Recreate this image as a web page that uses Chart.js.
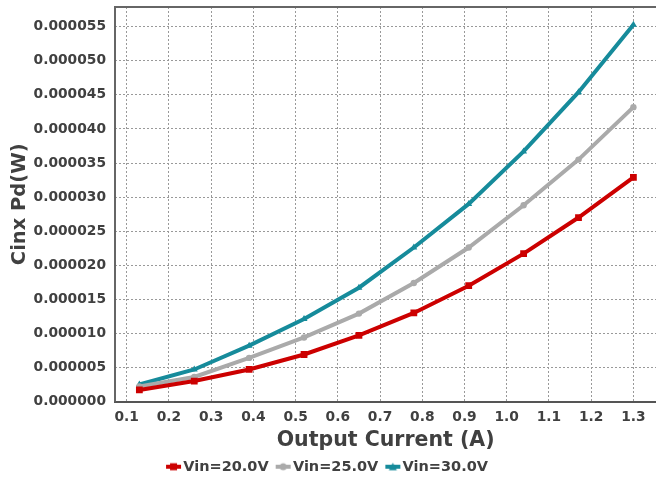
<!DOCTYPE html>
<html>
<head>
<meta charset="utf-8">
<script src="https://cdn.jsdelivr.net/npm/chart.js@4.4.0/dist/chart.umd.min.js"></script>
<style>
    html, body { margin: 0; padding: 0; background: #fff; overflow: hidden; }
    #wrap { width: 661px; height: 477px; }
</style>
</head>
<body>
<div id="wrap"><canvas id="chart"></canvas></div>
<script>
// Chart data
const currents = [0.13, 0.26, 0.39, 0.52, 0.65, 0.78, 0.91, 1.04, 1.17, 1.3];
const vin20 = [1.7e-6, 3.0e-6, 4.7e-6, 6.9e-6, 9.7e-6, 13.0e-6, 17.0e-6, 21.7e-6, 27.0e-6, 32.9e-6];
const vin25 = [2.2e-6, 3.6e-6, 6.4e-6, 9.4e-6, 12.9e-6, 17.4e-6, 22.6e-6, 28.8e-6, 35.5e-6, 43.2e-6];
const vin30 = [2.5e-6, 4.7e-6, 8.2e-6, 12.1e-6, 16.7e-6, 22.6e-6, 29.0e-6, 36.7e-6, 45.4e-6, 55.3e-6];
const seriesLabels = ['Vin=20.0V', 'Vin=25.0V', 'Vin=30.0V'];
const xTicks = [0.1, 0.2, 0.3, 0.4, 0.5, 0.6, 0.7, 0.8, 0.9, 1.0, 1.1, 1.2, 1.3];
const yTicks = [0, 0.000005, 0.00001, 0.000015, 0.00002, 0.000025, 0.00003, 0.000035, 0.00004, 0.000045, 0.00005, 0.000055];

const textColor = '#404040';
const fontFamily = '"DejaVu Sans", sans-serif';

function toPoints(values) {
    return currents.map((x, i) => ({ x: x, y: values[i] }));
}

// line+marker icon for the legend (drawn in the right half so it sits close to the text)
function legendIcon(color, style) {
    const c = document.createElement('canvas');
    c.width = 30;
    c.height = 12;
    const g = c.getContext('2d');
    g.strokeStyle = color;
    g.fillStyle = color;
    g.lineWidth = 4;
    g.beginPath();
    g.moveTo(10, 6);
    g.lineTo(25, 6);
    g.stroke();
    g.beginPath();
    if (style === 'rect') {
        g.rect(14, 2.5, 7, 7);
    } else if (style === 'circle') {
        g.arc(17.5, 6, 3.5, 0, Math.PI * 2);
    } else {
        g.moveTo(17.5, 2);
        g.lineTo(21.5, 9.5);
        g.lineTo(13.5, 9.5);
        g.closePath();
    }
    g.fill();
    return c;
}

function makeDataset(label, values, color, style, radius) {
    return {
        label: label,
        data: toPoints(values),
        borderColor: color,
        backgroundColor: color,
        borderWidth: 4,
        pointStyle: style,
        pointRadius: radius,
        pointHoverRadius: radius,
        pointBorderWidth: 0,
        tension: 0,
        icon: legendIcon(color, style)
    };
}

const frame = {
    id: 'frame',
    afterDraw(chart) {
        const a = chart.chartArea;
        const ctx = chart.ctx;
        ctx.save();
        ctx.strokeStyle = '#666';
        ctx.lineWidth = 2;
        ctx.beginPath();
        ctx.moveTo(a.left, a.bottom);
        ctx.lineTo(a.left, a.top);
        ctx.lineTo(a.right, a.top);
        ctx.stroke();
        ctx.restore();
    }
};

new Chart(document.getElementById('chart'), {
    type: 'line',
    data: {
        datasets: [
            makeDataset(seriesLabels[0], vin20, '#cc0000', 'rect', 4.8),
            makeDataset(seriesLabels[1], vin25, '#aaaaaa', 'circle', 3.2),
            makeDataset(seriesLabels[2], vin30, '#168b9b', 'triangle', 4)
        ]
    },
    options: {
        responsive: true,
        maintainAspectRatio: false,
        animation: false,
        layout: {
            padding: { left: -7, right: 0, top: 7, bottom: -7 }
        },
        plugins: {
            legend: {
                position: 'bottom',
                labels: {
                    usePointStyle: true,
                    pointStyleWidth: 10,
                    padding: 7,
                    color: textColor,
                    font: { family: fontFamily, size: 14.5, weight: 'bold' },
                    generateLabels(chart) {
                        return chart.data.datasets.map((ds, i) => ({
                            text: ds.label,
                            pointStyle: ds.icon,
                            fillStyle: ds.borderColor,
                            strokeStyle: ds.borderColor,
                            lineWidth: 0,
                            fontColor: textColor,
                            datasetIndex: i,
                            hidden: false
                        }));
                    }
                }
            },
            tooltip: { enabled: false }
        },
        scales: {
            x: {
                type: 'linear',
                min: 0.0723,
                max: 1.354,
                afterBuildTicks(axis) {
                    axis.ticks = xTicks.map(v => ({ value: v }));
                },
                afterFit(axis) {
                    axis.height = 51;
                    axis.paddingLeft = 0;
                    axis.paddingRight = 0;
                },
                ticks: {
                    color: textColor,
                    font: { family: fontFamily, size: 13.8, weight: 'bold' },
                    padding: 8,
                    callback: (v) => Number(v).toFixed(1)
                },
                grid: {
                    color: '#999',
                    lineWidth: 1,
                    drawTicks: false
                },
                border: { display: true, color: '#555', width: 2, dash: [2, 2] },
                title: {
                    display: true,
                    text: 'Output Current (A)',
                    color: textColor,
                    font: { family: fontFamily, size: 20.5, weight: 'bold' },
                    padding: { top: 0, bottom: 0 }
                }
            },
            y: {
                type: 'linear',
                min: 0,
                max: 0.0000579,
                afterBuildTicks(axis) {
                    axis.ticks = yTicks.map(v => ({ value: v }));
                },
                afterFit(axis) {
                    axis.width = 122;
                    axis.paddingTop = 0;
                    axis.paddingBottom = 0;
                },
                ticks: {
                    color: textColor,
                    font: { family: fontFamily, size: 13.8, weight: 'bold' },
                    padding: 9,
                    callback: (v) => Number(v).toFixed(6)
                },
                grid: {
                    color: '#999',
                    lineWidth: 1,
                    drawTicks: false
                },
                border: { display: false, dash: [2, 2] },
                title: {
                    display: true,
                    text: 'Cinx Pd(W)',
                    color: textColor,
                    font: { family: fontFamily, size: 19.5, weight: 'bold' },
                    padding: { top: 15, bottom: 0 }
                }
            }
        }
    },
    plugins: [frame]
});
</script>
</body>
</html>
